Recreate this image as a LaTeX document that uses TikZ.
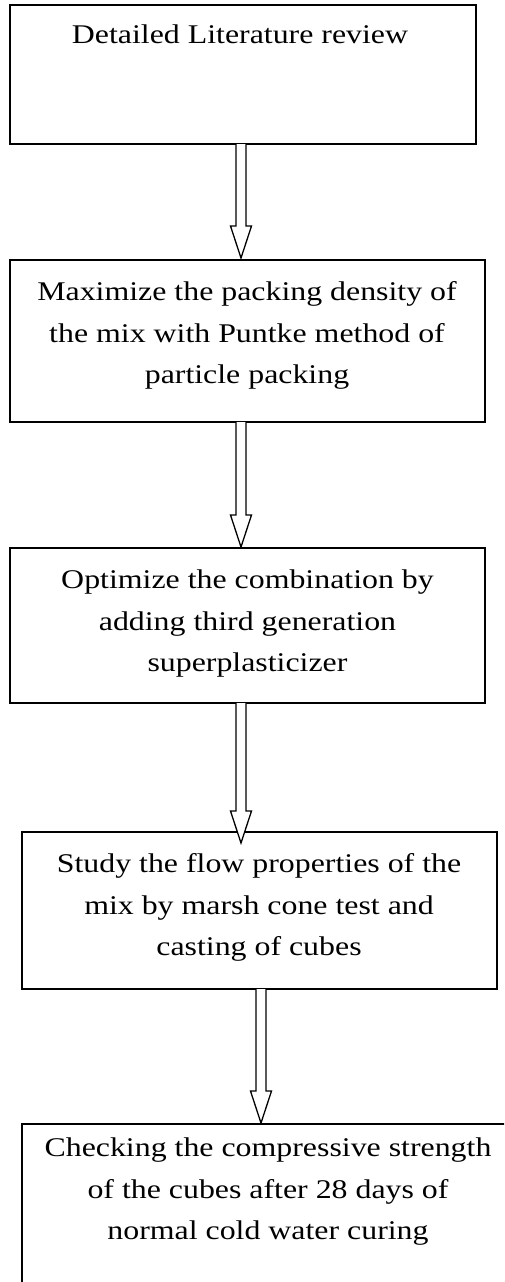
\documentclass[tikz,border=0pt]{standalone}
\usepackage{fontspec}
\setmainfont{Liberation Serif}[FakeStretch=1.18]
\usetikzlibrary{calc}
\newcommand\hollowarrow[2]{%
  \draw[arrowline] let \p1=(#1), \p2=(#2) in
    (\x1-5pt,\y1) -- (\x1-5pt,\y2+32pt) -- (\x1-10.5pt,\y2+32pt) -- (\x1,\y2)
    -- (\x1+10.5pt,\y2+32pt) -- (\x1+5pt,\y2+32pt) -- (\x1+5pt,\y1);}
\begin{document}
\begin{tikzpicture}[x=1pt,y=-1pt,
  box/.style={draw, line width=1.8pt, rectangle, inner sep=0pt, outer sep=0pt},
  txt/.style={anchor=north, inner sep=0pt, align=center, font=\fontsize{27}{41.5}\selectfont},
  arrowline/.style={line width=1.3pt, line join=miter, fill=white}]
\useasboundingbox (0,0) rectangle (504,1282);
\clip (0,0) rectangle (504,1282);
\fill[white] (0,0) rectangle (504,1282);
% boxes
\node[box, minimum width=466pt, minimum height=139pt] (b1) at (243,74.5) {};
\node[box, minimum width=475pt, minimum height=162pt] (b2) at (247.5,341) {};
\node[box, minimum width=475pt, minimum height=155pt] (b3) at (247.5,625.5) {};
\node[box, minimum width=475pt, minimum height=157pt] (b4) at (259.5,910.5) {};
\node[box, minimum width=492pt, minimum height=176pt] (b5) at (268,1212) {};
% texts
\node[txt] (t1) at (240,24.6) {Detailed Literature review};
\node[txt] (t2) at (247,281.6) {Maximize the packing density of\\the mix with Puntke method of\\particle packing};
\node[txt] (t3) at (247.5,569.6) {Optimize the combination by\\adding third generation\\superplasticizer};
\node[txt] (t4) at (259,853.6) {Study the flow properties of the\\mix by marsh cone test and\\casting of cubes};
\node[txt] (t5) at (268,1137.6) {Checking the compressive strength\\of the cubes after 28 days of\\normal cold water curing};
% arrow end points
\coordinate (s1) at ($(b1.south west)+(231,0)$);
\coordinate (e1) at ($(b2.north west)+(231,-2)$);
\coordinate (s2) at ($(b2.south west)+(231,0)$);
\coordinate (e2) at ($(b3.north west)+(231,-1)$);
\coordinate (s3) at ($(b3.south west)+(231,0)$);
\coordinate (e3) at ($(b4.north west)+(219,11)$);
\coordinate (s4) at ($(b4.south west)+(239,0)$);
\coordinate (e4) at ($(b5.north west)+(239,-1)$);
\hollowarrow{s1}{e1}
\hollowarrow{s2}{e2}
\hollowarrow{s3}{e3}
\hollowarrow{s4}{e4}
\end{tikzpicture}
\end{document}
